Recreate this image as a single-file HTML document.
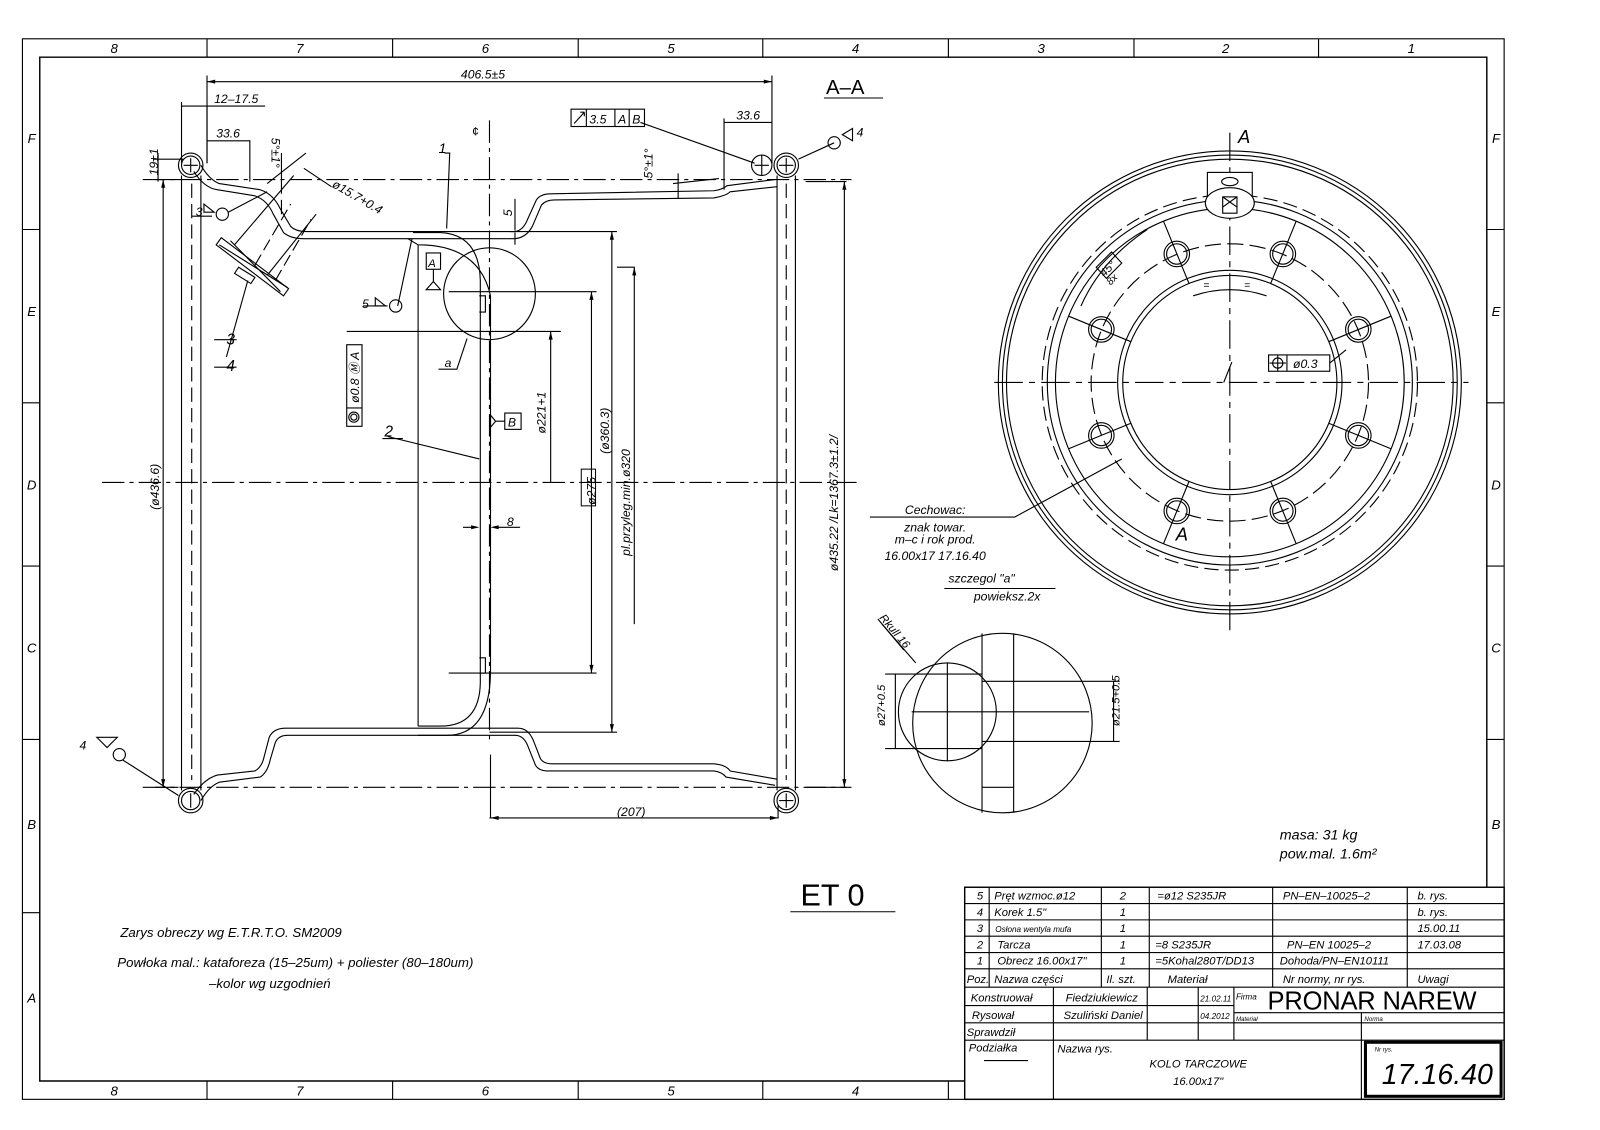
<!DOCTYPE html>
<html><head><meta charset="utf-8"><style>
html,body{margin:0;padding:0;background:#fff;}
svg{display:block;}
text{font-family:"Liberation Sans",sans-serif;font-style:italic;fill:#000;}
</style></head><body>
<svg width="1600" height="1130" viewBox="0 0 1569 1108" xmlns="http://www.w3.org/2000/svg">
<rect width="1569" height="1108" fill="#fff"/>
<g fill="none" stroke="#000" stroke-width="1.1">
<!-- frames -->
<rect x="22" y="38" width="1453" height="1040"/>
<path d="M946 1060H39V56H1458V870" stroke-width="1.4"/>
<path d="M203 38V56M385 38V56M567 38V56M748 38V56M930 38V56M1112 38V56M1293 38V56"/>
<path d="M203 1060V1078M385 1060V1078M567 1060V1078M748 1060V1078M930 1060V1078"/>
<path d="M22 225H39M22 395H39M22 555H39M22 725H39M22 895H39"/>
<path d="M1458 225H1475M1458 395H1475M1458 555H1475M1458 725H1475"/>
</g>
<g font-size="13" text-anchor="middle" style="font-style:normal">
<text x="112" y="52">8</text><text x="294" y="52">7</text><text x="476" y="52">6</text><text x="658" y="52">5</text><text x="839" y="52">4</text><text x="1021" y="52">3</text><text x="1202" y="52">2</text><text x="1384" y="52">1</text>
<text x="112" y="1074">8</text><text x="294" y="1074">7</text><text x="476" y="1074">6</text><text x="658" y="1074">5</text><text x="839" y="1074">4</text>
<text x="31" y="140">F</text><text x="31" y="310">E</text><text x="31" y="480">D</text><text x="31" y="640">C</text><text x="31" y="813">B</text><text x="31" y="983">A</text>
<text x="1467" y="140">F</text><text x="1467" y="310">E</text><text x="1467" y="480">D</text><text x="1467" y="640">C</text><text x="1467" y="813">B</text>
</g>

<!-- SECTION VIEW -->
<g fill="none" stroke="#000" stroke-width="1.1">
<path d="M100 473H840" stroke-dasharray="22 5 4 5"/>
<path d="M480 118V730" stroke-dasharray="22 5 4 5"/>
<path d="M140 176H835" stroke-dasharray="22 5 4 5"/>
<path d="M140 772H835" stroke-dasharray="22 5 4 5"/>
<path d="M197 162Q205 176 215 180L255 186Q268 190 275 205L285 222Q290 227 300 227L505 227Q512 226 516 218L526 196Q530 190 540 190L700 187Q708 186 713 182L760 176"/>
<path d="M190 168Q200 184 213 186L250 192Q262 196 268 210L278 228Q285 234 298 234L505 234Q516 233 522 222L531 201Q535 196 544 196L700 194Q712 192 716 188L762 183"/>
<path d="M197 785Q205 771 215 767L255 762Q262 758 265 745L270 728Q273 721 282 721L505 721Q513 721 517 730L525 750Q528 756 538 756L700 756Q708 757 712 762L760 770"/>
<path d="M190 779Q200 764 213 760L250 756Q257 752 259 742L264 723Q268 714 280 714L508 714Q518 714 523 726L530 744Q533 749 542 749L700 749Q712 750 716 756L762 764"/>
<circle cx="187" cy="162" r="9"/><circle cx="187" cy="162" r="12"/>
<circle cx="771" cy="162" r="9"/><circle cx="771" cy="162" r="12"/>
<circle cx="747" cy="162" r="10"/>
<circle cx="187" cy="785" r="9"/><circle cx="187" cy="785" r="12"/>
<circle cx="771" cy="785" r="9"/><circle cx="771" cy="785" r="12"/>
<path d="M180 162H194M187 155V169M740 162H754M747 152V172M764 162H778M771 155V169M187 778V792M764 785H778M771 778V792"/>
<path d="M178 172V775M197 172V775M762 172V775M780 172V775"/>
<path d="M188 180V765M771 180V765" stroke-dasharray="14 6"/>
<path d="M405 228H432Q470 230 471 275V670Q470 712 432 712H410"/>
<path d="M400 234L410 240Q470 240 481 290V660Q480 721 438 721H410"/>
<path d="M410 240V712"/>
<path d="M470 290H476V306H470M470 645H476V660H470"/>
<circle cx="480" cy="288" r="45"/>
<path d="M458 332L448 362H430"/>
<path d="M262 180L300 150M230 240L288 172M262 270L310 210M215 240L282 282M226 236L275 286"/>
<path d="M212 240L278 290L283 283L217 233Z"/>
<path d="M234 262l16 10 -4 6 -16 -10Z"/>
<path d="M250 260L285 200M270 275L305 215" stroke-dasharray="12 5"/>
<path d="M298 165L325 183"/>
<path d="M243 275L222 350"/>
<path d="M436 150H441L438 224"/>
<path d="M404 234L390 300"/>
<path d="M210 360H232M210 333H232"/>
<path d="M628 120L740 160"/>
<path d="M783 156L818 140"/><circle cx="818" cy="140" r="6"/>
<circle cx="388" cy="300" r="6"/><circle cx="218" cy="210" r="6"/>
<path d="M224 208L262 188"/>
<circle cx="117" cy="740" r="6"/><path d="M120 745L175 780"/>
<path d="M356 300H380M188 212H208"/>
<path d="M380 428L470 450"/><path d="M375 430H395"/>
<path d="M368 292l10 8h-10z M200 200l10 8h-10z M95 723l10 10 10 -10z M826 132l10 -6 0 12z"/>
<rect x="418" y="248" width="14" height="16"/><path d="M425 264V276M418 284l7 -8 7 8z"/>
<rect x="495" y="405" width="16" height="16"/><path d="M486 413H495M486 413l-5 -6v12z"/>
<rect x="560" y="107" width="72" height="17"/><path d="M575 107V124M603 107V124M617 107V124M563 121l10 -11M573 110l-4 0M573 110l0 4"/>
<rect x="340" y="338" width="15" height="80"/><path d="M340 400H355"/>
<circle cx="347" cy="409" r="5"/><circle cx="347" cy="409" r="3"/>
<rect x="1244" y="348" width="60" height="16"/><path d="M1262 348V364"/><circle cx="1253" cy="356" r="5"/><path d="M1245 356H1261M1253 348V364"/>
<path d="M1304 356L1320 343"/>
<path d="M203 80H757M203 74V160M757 74V160"/>
<path d="M178 104H260M178 100V160M203 104V160"/>
<path d="M203 138H245V178"/>
<path d="M710 120H757M710 116V186"/>
<path d="M150 156H180M155 150V178"/>
<path d="M160 176V772M152 176H178M152 772H175"/>
<path d="M340 325H550M540 325V473"/>
<path d="M440 286H585M580 286V660M440 660H585"/>
<path d="M500 227H605M600 227V718M605 718H480"/>
<path d="M605 262H622V612"/>
<path d="M790 178H830M828 178V772M790 772H830"/>
<path d="M481 802V740M480 802H763V790"/>
<path d="M454 517H468M484 517H510"/>
<path d="M505 195V226M505 228V240"/>
<path d="M276 150V190M276 196V210"/>
<path d="M665 170V195M660 180L705 175"/>
</g>
<g fill="#000">
<path d="M203 80l8 -2v4zM757 80l-8 -2v4zM160 176l-2 8h4zM160 772l-2 -8h4zM828 178l-2 8h4zM828 772l-2 -8h4zM540 325l-2 8h4zM580 286l-2 8h4zM580 660l-2 -8h4zM600 227l-2 8h4zM600 718l-2 -8h4zM481 802l8 -2v4zM763 802l-8 -2v4zM470 517l-8 -2v4zM481 517l8 -2v4zM622 262l-2 8h4z"/>
</g>
<g font-size="12">
<text x="452" y="77">406.5±5</text>
<text x="210" y="101">12–17.5</text>
<text x="212" y="135">33.6</text>
<text x="722" y="117">33.6</text>
<text x="155" y="172" transform="rotate(-90 155 172)">19±1</text>
<text x="266" y="135" transform="rotate(90 266 135)">5°±1°</text>
<text x="665" y="150" transform="rotate(-90 665 175)">5°±1°</text>
<text x="325" y="183" transform="rotate(30 325 183)">ø15.7+0.4</text>
<text x="463" y="133" style="font-style:normal">¢</text>
<text x="430" y="150" font-size="14">1</text>
<text x="496" y="206" transform="rotate(-90 502 206)">5</text>
<text x="420" y="262" font-size="11">A</text>
<text x="355" y="302">5</text>
<text x="192" y="212">3</text>
<text x="222" y="338" font-size="15">3</text>
<text x="222" y="364" font-size="15">4</text>
<text x="436" y="360">a</text>
<text x="352" y="395" transform="rotate(-90 352 395)">ø0.8 Ⓜ A</text>
<text x="377" y="428" font-size="15">2</text>
<text x="498" y="418" font-size="12">B</text>
<text x="535" y="425" transform="rotate(-90 535 425)">ø221+1</text>
<text x="584" y="495" transform="rotate(-90 584 495)">ø275</text>
<rect x="570" y="460" width="14" height="36" fill="none" stroke="#000"/>
<text x="597" y="445" transform="rotate(-90 597 445)">(ø360.3)</text>
<text x="618" y="545" transform="rotate(-90 618 545)">pl.przyleg.min.ø320</text>
<text x="822" y="560" transform="rotate(-90 822 560)">ø435.22 /Lk=1367.3±1.2/</text>
<text x="156" y="500" transform="rotate(-90 156 500)">(ø436.6)</text>
<text x="497" y="516">8</text>
<text x="605" y="800">(207)</text>
<text x="578" y="121" font-size="12">3.5</text><text x="606" y="121" font-size="12">A</text><text x="620" y="121" font-size="12">B</text>
<text x="78" y="735">4</text>
<text x="840" y="134">4</text>
<text x="810" y="92" font-size="20" style="font-style:normal">A–A</text>
</g>
<path d="M808 96H866" stroke="#000"/>

<!-- FRONT VIEW -->
<g fill="none" stroke="#000" stroke-width="1.1">
<circle cx="1206" cy="375" r="227"/><circle cx="1206" cy="375" r="223"/><circle cx="1206" cy="375" r="219"/>
<circle cx="1206" cy="375" r="184" stroke-dasharray="14 6"/>
<circle cx="1206" cy="375" r="179"/><circle cx="1206" cy="375" r="171"/>
<circle cx="1206" cy="375" r="136" stroke-dasharray="16 6"/>
<circle cx="1206" cy="375" r="110"/><circle cx="1206" cy="375" r="105"/>
<path d="M975 375H1440" stroke-dasharray="28 6 6 6"/>
<path d="M1206 130V620" stroke-dasharray="28 6 6 6"/>
<rect x="1184" y="169" width="44" height="30" fill="#fff"/>
<ellipse cx="1206" cy="199" rx="24" ry="15" fill="#fff"/>
<ellipse cx="1206" cy="178" rx="8" ry="4"/>
<rect x="1199" y="193" width="14" height="16"/><path d="M1199 193l14 10M1213 193l-14 10"/>
<g>
<circle cx="1258" cy="249" r="12.5"/><circle cx="1258" cy="249" r="10"/>
<circle cx="1332" cy="323" r="12.5"/><circle cx="1332" cy="323" r="10"/>
<circle cx="1332" cy="427" r="12.5"/><circle cx="1332" cy="427" r="10"/>
<circle cx="1258" cy="501" r="12.5"/><circle cx="1258" cy="501" r="10"/>
<circle cx="1154" cy="501" r="12.5"/><circle cx="1154" cy="501" r="10"/>
<circle cx="1080" cy="427" r="12.5"/><circle cx="1080" cy="427" r="10"/>
<circle cx="1080" cy="323" r="12.5"/><circle cx="1080" cy="323" r="10"/>
<circle cx="1154" cy="249" r="12.5"/><circle cx="1154" cy="249" r="10"/>
</g>
<path d="M1246 278L1271 217M1303 335L1364 310M1303 415L1364 440M1246 472L1271 533M1166 472L1141 533M1109 415L1048 440M1109 335L1048 310M1166 278L1141 217"/>
<path d="M1170 290Q1206 278 1242 290"/>
<path d="M1200 375L1208 355"/>
<path d="M853 507H995L1100 450"/>
<path d="M1075 262L1090 247L1100 258L1085 273Z"/>
<path d="M1060 300Q1080 255 1125 225"/>
</g>
<g font-size="18" style="font-style:normal">
<text x="1214" y="140">A</text>
<text x="1153" y="530">A</text>
</g>
<g font-size="12">
<text x="1268" y="361">ø0.3</text>
<text x="1083" y="272" transform="rotate(-45 1083 272)" font-size="11">45°</text>
<text x="1089" y="280" transform="rotate(-45 1089 280)" font-size="10">8x</text>
<text x="1180" y="283" font-size="10">=</text><text x="1220" y="283" font-size="10">=</text>
<text x="917" y="504" text-anchor="middle">Cechowac:</text>
<text x="917" y="521" text-anchor="middle">znak towar.</text>
<text x="917" y="533" text-anchor="middle">m–c i rok prod.</text>
<text x="917" y="549" text-anchor="middle">16.00x17 17.16.40</text>
<text x="930" y="571">szczegol "a"</text>
<text x="955" y="589">powieksz.2x</text>
<text x="1255" y="823" font-size="14">masa:  31 kg</text>
<text x="1255" y="842" font-size="14">pow.mal.  1.6m²</text>
</g>
<path d="M926 577H1035" stroke="#000"/>

<!-- DETAIL a -->
<g fill="none" stroke="#000" stroke-width="1.1">
<circle cx="983" cy="709" r="88"/>
<circle cx="929" cy="698" r="48"/>
<path d="M963 621V797M994 621V797M963 772H994"/>
<path d="M868 661H963M868 734H963M963 668H1098M963 727H1098M894 698H1068M929 650V746"/>
<path d="M878 661V734M1092 668V727"/>
<path d="M865 612L898 650"/>
</g>
<g font-size="11">
<text x="868" y="712" transform="rotate(-90 868 712)">ø27+0.5</text>
<text x="1098" y="712" transform="rotate(-90 1098 712)">ø21.5+0.5</text>
<text x="862" y="606" transform="rotate(50 862 606)" style="text-decoration:underline">Rkull 16</text>
</g>

<g font-size="13">
<text x="118" y="919">Zarys obreczy wg E.T.R.T.O. SM2009</text>
<text x="115" y="948">Powłoka mal.:  kataforeza (15–25um) + poliester (80–180um)</text>
<text x="205" y="969">–kolor wg uzgodnień</text>
</g>
<text x="785" y="888" font-size="30" style="font-style:normal">ET 0</text>
<path d="M775 894H878" stroke="#000"/>

<!-- TITLE BLOCK -->
<g fill="none" stroke="#000" stroke-width="1.1">
<rect x="946" y="870" width="529" height="208" stroke-width="1.4"/>
<path d="M946 886H1475M946 902H1475M946 918H1475M946 934H1475M946 950H1475M946 968H1475M946 986H1210M946 1003H1475M946 1020H1475"/>
<path d="M970 870V968M1080 870V968M1127 870V968M1248 870V968M1380 870V968"/>
<path d="M1033 968V1078M1125 968V1020M1175 968V1020M1210 968V1020M1335 993V1078"/>
<path d="M1210 993H1475"/>
<rect x="1339" y="1022" width="133" height="53" stroke-width="3"/>
<path d="M965 1040H1008"/>
</g>
<g font-size="11">
<text x="958" y="882">5</text><text x="975" y="882">Pręt  wzmoc.ø12</text><text x="1098" y="882">2</text><text x="1135" y="882">=ø12  S235JR</text><text x="1258" y="882">PN–EN–10025–2</text><text x="1390" y="882">b.  rys.</text>
<text x="958" y="898">4</text><text x="975" y="898">Korek  1.5"</text><text x="1098" y="898">1</text><text x="1390" y="898">b.  rys.</text>
<text x="958" y="914">3</text><text x="976" y="914" font-size="8">Osłona  wentyla  mufa</text><text x="1098" y="914">1</text><text x="1390" y="914">15.00.11</text>
<text x="958" y="930">2</text><text x="978" y="930">Tarcza</text><text x="1098" y="930">1</text><text x="1133" y="930">=8  S235JR</text><text x="1262" y="930">PN–EN  10025–2</text><text x="1390" y="930">17.03.08</text>
<text x="958" y="946">1</text><text x="978" y="946">Obrecz  16.00x17"</text><text x="1098" y="946">1</text><text x="1133" y="946">=5Kohal280T/DD13</text><text x="1255" y="946">Dohoda/PN–EN10111</text>
<text x="948" y="964">Poz.</text><text x="975" y="964">Nazwa  części</text><text x="1085" y="964">Il.  szt.</text><text x="1145" y="964">Materiał</text><text x="1258" y="964">Nr  normy,  nr  rys.</text><text x="1390" y="964">Uwagi</text>
<text x="952" y="982">Konstruował</text><text x="1045" y="982">Fiedziukiewicz</text><text x="1177" y="982" font-size="8">21.02.11</text><text x="1212" y="980" font-size="8">Firma</text>
<text x="953" y="999">Rysował</text><text x="1043" y="999">Szuliński  Daniel</text><text x="1177" y="999" font-size="8">04.2012</text>
<text x="1212" y="1001" font-size="6">Materiał</text><text x="1338" y="1001" font-size="6">Norma</text>
<text x="948" y="1016">Sprawdził</text>
<text x="950" y="1031">Podziałka</text><text x="1037" y="1032">Nazwa  rys.</text>
<text x="1175" y="1047" text-anchor="middle">KOLO  TARCZOWE</text>
<text x="1175" y="1064" text-anchor="middle">16.00x17"</text>
<text x="1348" y="1031" font-size="6">Nr rys.</text>
<text x="1243" y="990" font-size="25" style="font-style:normal" textLength="205">PRONAR  NAREW</text>
<text x="1355" y="1063" font-size="28">17.16.40</text>
</g>
</svg>
</body></html>
